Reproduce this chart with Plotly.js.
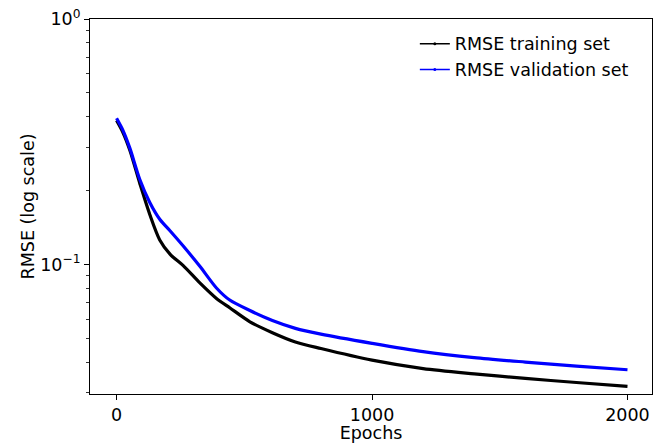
<!DOCTYPE html>
<html>
<head>
<meta charset="utf-8">
<script src="https://cdn.plot.ly/plotly-3.0.1.min.js"></script>
<style>html,body{margin:0;padding:0;background:#fff;}#chart{width:664px;height:443px;}</style>
</head>
<body>
<div id="chart"></div>
<script>
const epochs = [0, 25, 52, 91, 130, 169, 210, 261, 326, 391, 443, 522, 610, 700, 800, 1000, 1200, 1400, 1600, 1800, 2000];
const rmseTrain = [0.386, 0.345, 0.292, 0.214, 0.160, 0.126, 0.110, 0.099, 0.0842, 0.0728, 0.0667, 0.0585, 0.0528, 0.0484, 0.0455, 0.0408, 0.0377, 0.0359, 0.0344, 0.0331, 0.0319];
const rmseVal = [0.394, 0.352, 0.298, 0.222, 0.179, 0.153, 0.137, 0.119, 0.0984, 0.0803, 0.0717, 0.0650, 0.0592, 0.0550, 0.0521, 0.0478, 0.0442, 0.0418, 0.0401, 0.0386, 0.0373];
const seriesNames = ['RMSE training set', 'RMSE validation set'];
const xTickVals = [0, 1000, 2000];
const yTickVals = [0.1, 1];
const yTickText = ['10<sup>\u22121</sup>', '10<sup>0</sup>'];
const yMinorVals = [0.03, 0.04, 0.05, 0.06, 0.07, 0.08, 0.09, 0.2, 0.3, 0.4, 0.5, 0.6, 0.7, 0.8, 0.9];

const font = {family: 'DejaVu Sans', size: 17.5, color: '#000'};

const traces = [
  {x: epochs, y: rmseTrain, mode: 'lines', line: {color: '#000000', width: 3.2, shape: 'spline', smoothing: 0.8}, showlegend: false, hoverinfo: 'skip'},
  {x: epochs, y: rmseVal, mode: 'lines', line: {color: '#0000ff', width: 3.2, shape: 'spline', smoothing: 0.8}, showlegend: false, hoverinfo: 'skip'},
  {x: [null], y: [null], mode: 'lines+markers', name: seriesNames[0], line: {color: '#000000', width: 1.5}, marker: {size: 3, color: '#000000'}},
  {x: [null], y: [null], mode: 'lines+markers', name: seriesNames[1], line: {color: '#0000ff', width: 1.5}, marker: {size: 3, color: '#0000ff'}}
];

const layout = {
  width: 664, height: 443,
  margin: {l: 90, r: 12, t: 19, b: 49},
  paper_bgcolor: '#fff', plot_bgcolor: '#fff',
  font: font,
  showlegend: true,
  legend: {x: 0.578, y: 0.982, xanchor: 'left', yanchor: 'top', bgcolor: 'rgba(255,255,255,0)', borderwidth: 0, font: font, tracegroupgap: 0},
  xaxis: {
    range: [-104, 2096], showgrid: false, zeroline: false,
    tickmode: 'array', tickvals: xTickVals, ticks: 'outside', ticklen: 5, tickwidth: 1, tickcolor: '#000',
    showline: true, linecolor: '#000', linewidth: 1, mirror: true,
    title: {text: 'Epochs', font: font, standoff: 1},
    tickfont: font
  },
  yaxis: {
    type: 'log', range: [-1.527, 0], showgrid: false, zeroline: false,
    tickmode: 'array', tickvals: yTickVals, ticktext: yTickText, ticks: 'outside', ticklen: 5, tickwidth: 1, tickcolor: '#000',
    minor: {tickmode: 'array', tickvals: yMinorVals, ticks: 'outside', ticklen: 3, tickwidth: 0.8, tickcolor: '#000', showgrid: false},
    showline: true, linecolor: '#000', linewidth: 1, mirror: true,
    title: {text: 'RMSE (log scale)', font: font, standoff: 1},
    tickfont: font
  }
};

Plotly.newPlot('chart', traces, layout, {displayModeBar: false, staticPlot: true});
</script>
</body>
</html>
